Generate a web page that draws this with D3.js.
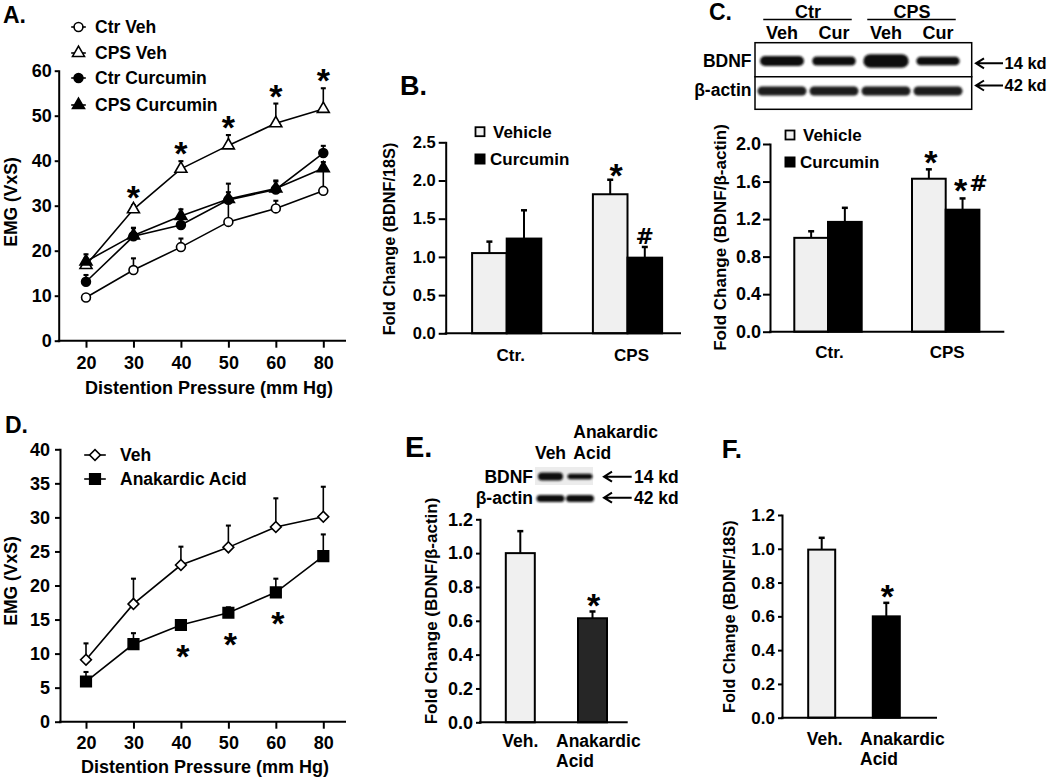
<!DOCTYPE html>
<html><head><meta charset="utf-8">
<script src="https://cdn.jsdelivr.net/npm/d3@7"></script>
<style>body{margin:0;background:#fff}svg{display:block}</style>
</head><body><div id="chart"></div>
<script>
// ---------------- data ----------------
const pressures = ["20", "30", "40", "50", "60", "80"];
const ctrVeh     = [9.6, 15.7, 20.8, 26.4, 29.4, 33.3];
const ctrVehErr  = [0.5, 2.6, 1.9, 4.5, 1.7, 4.8];
const cpsVeh     = [16.8, 29.2, 38.2, 43.4, 48.3, 51.5];
const cpsVehErr  = [1.5, 0.9, 1.7, 2.3, 4.4, 4.6];
const ctrCur     = [13.1, 23.2, 25.7, 31.3, 33.6, 41.7];
const ctrCurErr  = [1.5, 1.8, 1.3, 3.6, 2.0, 1.6];
const cpsCur     = [17.6, 23.4, 27.7, 31.5, 33.8, 38.3];
const cpsCurErr  = [1.6, 1.7, 1.5, 1.5, 1.6, 1.4];
const sigA = ["30", "40", "50", "60", "80"];
const ticksA = [0, 10, 20, 30, 40, 50, 60];

const dVeh    = [9.1, 17.3, 23.0, 25.6, 28.6, 30.1];
const dVehErr = [2.4, 3.7, 2.7, 3.2, 4.2, 4.4];
const dAna    = [5.9, 11.4, 14.2, 16.0, 19.0, 24.3];
const dAnaErr = [1.4, 1.6, 0.5, 0.8, 2.0, 3.2];
const sigD = ["40", "50", "60"];
const ticksD = [0, 5, 10, 15, 20, 25, 30, 35, 40];

const groupsBC = ["Ctr.", "CPS"];
const treatments = ["Vehicle", "Curcumin"];
const bVehicle = [1.05, 1.82], bVehicleErr = [0.15, 0.19];
const bCurcumin = [1.24, 0.99], bCurcuminErr = [0.37, 0.14];
const ticksB = [0, 0.5, 1.0, 1.5, 2.0, 2.5];
const cVehicle = [1.00, 1.63], cVehicleErr = [0.07, 0.10];
const cCurcumin = [1.17, 1.30], cCurcuminErr = [0.15, 0.12];
const ticksC = [0, 0.4, 0.8, 1.2, 1.6, 2.0];

const groupsEF = ["Veh.", "Anakardic Acid"];
const eValues = [1.00, 0.615], eErr = [0.13, 0.04];
const fValues = [0.995, 0.60], fErr = [0.07, 0.08];
const ticksEF = [0, 0.2, 0.4, 0.6, 0.8, 1.0, 1.2];

const blotCGroups = ["Ctr", "CPS"];
const blotCLanes = ["Veh", "Cur", "Veh", "Cur"];
const blotCBdnf = [1.0, 0.9, 1.35, 0.85];
const blotCActin = [1.0, 1.0, 1.0, 1.0];
const blotELanes = ["Veh", "Acid"];
const blotEBdnf = [1.0, 0.7];
const blotEActin = [1.0, 1.0];

// ---------------- setup ----------------
const FONT = "'Liberation Sans', Arial, Helvetica, sans-serif";
const svg = d3.select("#chart").append("svg")
  .attr("width", 1050).attr("height", 781)
  .style("font-family", FONT);
svg.append("rect").attr("width", 1050).attr("height", 781).attr("fill", "#fff");

const defs = svg.append("defs");
defs.append("filter").attr("id", "blur").attr("x", "-20%").attr("y", "-60%")
  .attr("width", "140%").attr("height", "220%")
  .append("feGaussianBlur").attr("stdDeviation", 1.1);

function text(g, x, y, s, fs, opt = {}) {
  return g.append("text").attr("x", x).attr("y", y).text(s)
    .attr("font-size", fs).attr("font-weight", opt.weight || "bold")
    .attr("text-anchor", opt.anchor || "start").attr("fill", "#000");
}
function rotText(g, bx, cy, s, fs, weight) {
  return g.append("text").attr("transform", `translate(${bx},${cy}) rotate(-90)`)
    .text(s).attr("font-size", fs).attr("font-weight", weight || "bold")
    .attr("text-anchor", "middle").attr("fill", "#000");
}
function star(g, cx, cy, fs = 34) {
  return text(g, cx, cy + 0.56 * fs, "*", fs, { anchor: "middle" });
}
function hash(g, cx, cy, fs = 22) {
  return text(g, cx, cy + 0.36 * fs, "#", fs, { anchor: "middle" })
    .attr("font-family", "'DejaVu Sans', sans-serif");
}
function styleAxis(sel, fs) {
  sel.selectAll("path.domain").attr("stroke", "#000").attr("stroke-width", 2).attr("stroke-linecap", "square");
  sel.selectAll(".tick line").attr("stroke", "#000").attr("stroke-width", 2);
  sel.selectAll(".tick text").attr("fill", "#000").style("font-size", fs + "px")
    .style("font-weight", "bold").style("font-family", FONT);
}
function yAxis(g, scale, x, vals, fmt, fs, ts, pad) {
  const a = g.append("g").attr("transform", `translate(${x},0)`)
    .call(d3.axisLeft(scale).tickValues(vals).tickFormat(fmt).tickSize(ts).tickPadding(pad).tickSizeOuter(0));
  styleAxis(a, fs);
  return a;
}
function hLine(g, x1, x2, y, w = 2) {
  g.append("line").attr("x1", x1).attr("x2", x2).attr("y1", y).attr("y2", y)
    .attr("stroke", "#000").attr("stroke-width", w).attr("stroke-linecap", "square");
}
function errBar(g, x, y1, y2, cap = 5, w = 1.5) {
  g.append("line").attr("x1", x).attr("x2", x).attr("y1", y1).attr("y2", y2)
    .attr("stroke", "#000").attr("stroke-width", w);
  g.append("line").attr("x1", x - cap / 2).attr("x2", x + cap / 2).attr("y1", y2).attr("y2", y2)
    .attr("stroke", "#000").attr("stroke-width", w + 0.5);
}
function arrow(g, x1, x2, y) {
  g.append("path").attr("d", `M${x2},${y}H${x1}M${x1 + 8},${y - 5}L${x1},${y}L${x1 + 8},${y + 5}`)
    .attr("fill", "none").attr("stroke", "#000").attr("stroke-width", 2);
}

// symbols
const sym = {
  circle: d3.symbol().type(d3.symbolCircle).size(62),
  tri: d3.symbol().type(d3.symbolTriangle).size(62),
  diamond: d3.symbol().type(d3.symbolSquare).size(58),
  square: d3.symbol().type(d3.symbolSquare).size(112)
};
function marker(g, x, y, kind, filled) {
  g.append("path").attr("d", sym[kind]())
    .attr("transform", `translate(${x},${y})` + (kind === "diamond" ? " rotate(45)" : ""))
    .attr("fill", filled ? "#000" : "#fff").attr("stroke", "#000").attr("stroke-width", 1.6);
}

// ---------------- line chart helper ----------------
function lineChart(g, cfg) {
  const { x, y, series } = cfg;
  yAxis(g, y, cfg.axisX, cfg.ticks, d3.format("d"), 18, cfg.ts, cfg.pad);
  hLine(g, cfg.axisX, cfg.axisEnd, y(0));
  const xa = g.append("g").attr("transform", `translate(0,${y(0)})`)
    .call(d3.axisBottom(x).tickSize(7).tickPadding(cfg.xpad));
  xa.select("path.domain").remove();
  styleAxis(xa, 18);
  const line = d3.line().x((d, i) => x(pressures[i])).y(d => y(d));
  series.forEach(s => {
    g.append("path").datum(s.values).attr("d", line)
      .attr("fill", "none").attr("stroke", "#000").attr("stroke-width", 1.6);
  });
  series.forEach(s => s.values.forEach((v, i) => {
    if (s.err[i] > 0) errBar(g, x(pressures[i]), y(v), y(v + s.err[i]), 5, 1.6);
  }));
  series.forEach(s => s.values.forEach((v, i) => marker(g, x(pressures[i]), y(v), s.kind, s.filled)));
}

// ================= Panel A =================
{
  const g = svg.append("g");
  const y = d3.scaleLinear().domain([0, 60]).range([340.7, 70.7]);
  const x = d3.scalePoint().domain(pressures).range([86, 323.3]);
  const series = [
    { name: "Ctr Veh", values: ctrVeh, err: ctrVehErr, kind: "circle", filled: false },
    { name: "CPS Veh", values: cpsVeh, err: cpsVehErr, kind: "tri", filled: false },
    { name: "Ctr Curcumin", values: ctrCur, err: ctrCurErr, kind: "circle", filled: true },
    { name: "CPS Curcumin", values: cpsCur, err: cpsCurErr, kind: "tri", filled: true }
  ];
  lineChart(g, { x, y, series, axisX: 58.7, axisEnd: 345, ticks: ticksA, ts: 4, pad: 3, xpad: 9 });
  sigA.forEach(p => {
    const i = pressures.indexOf(p);
    star(g, x(p), y(cpsVeh[i] + cpsVehErr[i]) - 15);
  });
  const rows = [27, 53, 78, 105];
  series.forEach((s, k) => {
    hLine(g, 72, 85, rows[k], 1.6);
    marker(g, 78.5, rows[k], s.kind, s.filled);
    text(g, 95, rows[k] + 6.3, s.name, 17.5);
  });
  text(g, 3, 23, "A.", 23);
  rotText(g, 16.5, 202, "EMG (VxS)", 17.5);
  text(g, 209, 393.5, "Distention Pressure (mm Hg)", 18, { anchor: "middle" });
}

// ================= Panel D =================
{
  const g = svg.append("g");
  const y = d3.scaleLinear().domain([0, 40]).range([721.7, 449.3]);
  const x = d3.scalePoint().domain(pressures).range([86, 323.3]);
  const series = [
    { name: "Veh", values: dVeh, err: dVehErr, kind: "diamond", filled: false },
    { name: "Anakardic Acid", values: dAna, err: dAnaErr, kind: "square", filled: true }
  ];
  lineChart(g, { x, y, series, axisX: 60, axisEnd: 345, ticks: ticksD, ts: 5, pad: 5, xpad: 8 });
  sigD.forEach(p => {
    const i = pressures.indexOf(p);
    star(g, x(p) + 2, y(dAna[i]) + 24);
  });
  const rows = [455, 479];
  series.forEach((s, k) => {
    hLine(g, 85, 105, rows[k], 1.6);
    marker(g, 95, rows[k], s.kind, s.filled);
    text(g, 120, rows[k] + 6.3, s.name, 17.5);
  });
  text(g, 5, 433, "D.", 23);
  rotText(g, 16.5, 581, "EMG (VxS)", 17.5);
  text(g, 205, 773, "Distention Pressure (mm Hg)", 18, { anchor: "middle" });
}

// ---------------- grouped bar helper ----------------
function groupedBars(g, cfg) {
  const { x, xin, y } = cfg;
  const data = [
    { t: "Vehicle", v: cfg.veh, e: cfg.vehErr, fill: "#f0f0f0" },
    { t: "Curcumin", v: cfg.cur, e: cfg.curErr, fill: "#000" }
  ];
  data.forEach(s => s.v.forEach((v, i) => {
    const bx = x(groupsBC[i]) + xin(s.t);
    g.append("rect").attr("x", bx).attr("y", y(v)).attr("width", xin.bandwidth())
      .attr("height", y(0) - y(v)).attr("fill", s.fill).attr("stroke", "#000").attr("stroke-width", 2);
  }));
  data.forEach(s => s.v.forEach((v, i) => {
    const cx = x(groupsBC[i]) + xin(s.t) + xin.bandwidth() / 2;
    errBar(g, cx, y(v), y(v + s.e[i]), 6, 2);
  }));
  yAxis(g, y, cfg.axisX, cfg.ticks, d3.format(".1f"), cfg.fs, cfg.ts, cfg.pad);
  hLine(g, cfg.axisX, cfg.axisEnd, y(0));
  groupsBC.forEach(gr => text(g, x(gr) + cfg.labOff, cfg.labY, gr, 17, { anchor: "middle" }));
  // legend
  g.append("rect").attr("x", cfg.legX - 4.5).attr("y", cfg.legY[0] - 4.5).attr("width", 9).attr("height", 9)
    .attr("fill", "#f0f0f0").attr("stroke", "#000").attr("stroke-width", 1.8);
  g.append("rect").attr("x", cfg.legX - 5.5).attr("y", cfg.legY[1] - 5.5).attr("width", 11).attr("height", 11)
    .attr("fill", "#000");
  text(g, cfg.legX + 13, cfg.legY[0] + 6.2, "Vehicle", 17);
  text(g, cfg.legX + 10, cfg.legY[1] + 6.2, "Curcumin", 17);
}

// ================= Panel B =================
{
  const g = svg.append("g");
  const y = d3.scaleLinear().domain([0, 2.5]).range([333.3, 142.3]);
  const x = d3.scalePoint().domain(groupsBC).range([506.7, 627.5]);
  const xin = d3.scaleBand().domain(treatments).range([-34.6, 34.6]);
  groupedBars(g, { x, xin, y, veh: bVehicle, vehErr: bVehicleErr, cur: bCurcumin, curErr: bCurcuminErr,
    axisX: 445.7, axisEnd: 680, ticks: ticksB, fs: 16.5, ts: 7, pad: 3, labOff: 4, labY: 361,
    legX: 480, legY: [131.7, 159] });
  const cv = x("CPS") + xin("Vehicle") + xin.bandwidth() / 2;
  const cc = x("CPS") + xin("Curcumin") + xin.bandwidth() / 2;
  star(g, cv + 6, y(bVehicle[1] + bVehicleErr[1]) - 12);
  hash(g, cc, y(bCurcumin[1] + bCurcuminErr[1]) - 11);
  text(g, 400, 95, "B.", 27);
  rotText(g, 395, 239, "Fold Change (BDNF/18S)", 16.3);
}

// ================= Panel C =================
{
  const g = svg.append("g");
  const y = d3.scaleLinear().domain([0, 2.0]).range([331.7, 144]);
  const x = d3.scalePoint().domain(groupsBC).range([828, 945.7]);
  const xin = d3.scaleBand().domain(treatments).range([-33.7, 33.7]);
  groupedBars(g, { x, xin, y, veh: cVehicle, vehErr: cVehicleErr, cur: cCurcumin, curErr: cCurcuminErr,
    axisX: 770, axisEnd: 1003.3, ticks: ticksC, fs: 18, ts: 7, pad: 2, labOff: 1.5, labY: 357.8,
    legX: 790, legY: [135, 162] });
  const cv = x("CPS") + xin("Vehicle") + xin.bandwidth() / 2;
  const cc = x("CPS") + xin("Curcumin") + xin.bandwidth() / 2;
  star(g, cv + 2, y(cVehicle[1] + cVehicleErr[1]) - 14);
  star(g, cc - 2, y(cCurcumin[1] + cCurcuminErr[1]) - 15);
  hash(g, cc + 16, y(cCurcumin[1] + cCurcuminErr[1]) - 15);
  text(g, 709, 20, "C.", 23);
  rotText(g, 725.5, 237.5, "Fold Change (BDNF/\u03b2-actin)", 17);

  // western blot
  const lane = d3.scalePoint().domain(d3.range(blotCLanes.length)).range([782, 938]);
  blotCGroups.forEach((gr, k) => {
    const cx = (lane(2 * k) + lane(2 * k + 1)) / 2;
    text(g, cx, 18, gr, 18, { anchor: "middle" });
    hLine(g, cx - 44, cx + 43, 19.5, 1.5);
  });
  blotCLanes.forEach((l, i) => text(g, lane(i), 39, l, 18, { anchor: "middle" }));
  g.append("rect").attr("x", 755).attr("y", 42.7).attr("width", 216.7).attr("height", 66.6)
    .attr("fill", "#fff").attr("stroke", "#000").attr("stroke-width", 1.5);
  hLine(g, 755, 971.7, 76.7, 1.5);
  const bands = g.append("g").attr("filter", "url(#blur)");
  blotCBdnf.forEach((v, i) => {
    const h = 10 * v, w = 40 + 4 * v;
    bands.append("rect").attr("x", lane(i) - w / 2).attr("y", 61 - h / 2).attr("width", w).attr("height", h)
      .attr("rx", Math.min(w, h) / 2).attr("fill", "#111");
  });
  blotCActin.forEach((v, i) => {
    const h = 9 * v, w = 49 * v;
    bands.append("rect").attr("x", lane(i) - w / 2).attr("y", 91 - h / 2).attr("width", w).attr("height", h)
      .attr("rx", h / 2).attr("fill", "#1a1a1a");
  });
  text(g, 751.5, 66.5, "BDNF", 17.5, { anchor: "end" });
  text(g, 751.5, 96, "\u03b2-actin", 17.5, { anchor: "end" });
  arrow(g, 976, 1003, 63.3);
  arrow(g, 976, 1003, 85.5);
  text(g, 1004.5, 69.2, "14 kd", 16.5);
  text(g, 1004.5, 91.2, "42 kd", 16.5);
}

// ---------------- simple bar helper ----------------
function simpleBars(g, cfg) {
  const { x, y } = cfg;
  cfg.values.forEach((v, i) => {
    const cx = x(groupsEF[i]);
    g.append("rect").attr("x", cx - cfg.bw / 2).attr("y", y(v)).attr("width", cfg.bw)
      .attr("height", y(0) - y(v)).attr("fill", cfg.fills[i]).attr("stroke", "#000").attr("stroke-width", 2);
    errBar(g, cx, y(v), y(v + cfg.err[i]), 6, 2);
  });
  yAxis(g, y, cfg.axisX, ticksEF, d3.format(".1f"), cfg.fs, cfg.ts, cfg.pad);
  hLine(g, cfg.axisX, cfg.axisEnd, y(0));
  text(g, x(groupsEF[0]) + cfg.vehOff, cfg.labY, "Veh.", 17.5, { anchor: "middle" });
  const words = groupsEF[1].split(" ");
  words.forEach((w, k) => text(g, x(groupsEF[1]) + cfg.anaOff, cfg.labY + k * 19.5, w, 17.5));
  star(g, x(groupsEF[1]) + 1, y(cfg.values[1] + cfg.err[1]) - 14);
}

// ================= Panel E =================
{
  const g = svg.append("g");
  const y = d3.scaleLinear().domain([0, 1.2]).range([722.3, 519.3]);
  const x = d3.scalePoint().domain(groupsEF).range([520.3, 592.5]);
  simpleBars(g, { x, y, values: eValues, err: eErr, bw: 29, fills: ["#f0f0f0", "#262626"],
    axisX: 480, axisEnd: 626.7, fs: 18, ts: 4, pad: 3, vehOff: 0, anaOff: -36.5, labY: 747 });
  text(g, 405, 456.7, "E.", 29);
  rotText(g, 437, 611, "Fold Change (BDNF/\u03b2-actin)", 17);
  // blot
  const lane = d3.scalePoint().domain(d3.range(blotELanes.length)).range([550.5, 580]);
  text(g, 573.3, 438, "Anakardic", 17.5);
  text(g, lane(0), 458.5, blotELanes[0], 17.5, { anchor: "middle" });
  text(g, 573.3, 458.5, blotELanes[1], 17.5);
  g.append("rect").attr("x", 535).attr("y", 467).attr("width", 58).attr("height", 18).attr("fill", "#ececec");
  const bands = g.append("g").attr("filter", "url(#blur)");
  blotEBdnf.forEach((v, i) => {
    const h = 8 * v, w = 25;
    bands.append("rect").attr("x", lane(i) - w / 2).attr("y", 476.5 - h / 2).attr("width", w).attr("height", h)
      .attr("rx", h / 2).attr("fill", "#111");
  });
  blotEActin.forEach((v, i) => {
    const h = 7 * v, w = 28;
    bands.append("rect").attr("x", lane(i) - w / 2).attr("y", 498.5 - h / 2).attr("width", w).attr("height", h)
      .attr("rx", h / 2).attr("fill", "#111");
  });
  text(g, 533, 483, "BDNF", 17.5, { anchor: "end" });
  text(g, 533, 504, "\u03b2-actin", 17.5, { anchor: "end" });
  arrow(g, 604, 631.7, 476.7);
  arrow(g, 604, 631.7, 497.7);
  text(g, 634, 483, "14 kd", 17.5);
  text(g, 634, 504, "42 kd", 17.5);
}

// ================= Panel F =================
{
  const g = svg.append("g");
  const y = d3.scaleLinear().domain([0, 1.2]).range([717.7, 515]);
  const x = d3.scalePoint().domain(groupsEF).range([821.7, 886.3]);
  simpleBars(g, { x, y, values: fValues, err: fErr, bw: 27, fills: ["#f0f0f0", "#000"],
    axisX: 782, axisEnd: 936, fs: 17, ts: 4, pad: 3, vehOff: 3, anaOff: -26.3, labY: 745 });
  text(g, 721.7, 458, "F.", 26);
  rotText(g, 735, 616.7, "Fold Change (BDNF/18S)", 16.3);
}
</script>
</body></html>
